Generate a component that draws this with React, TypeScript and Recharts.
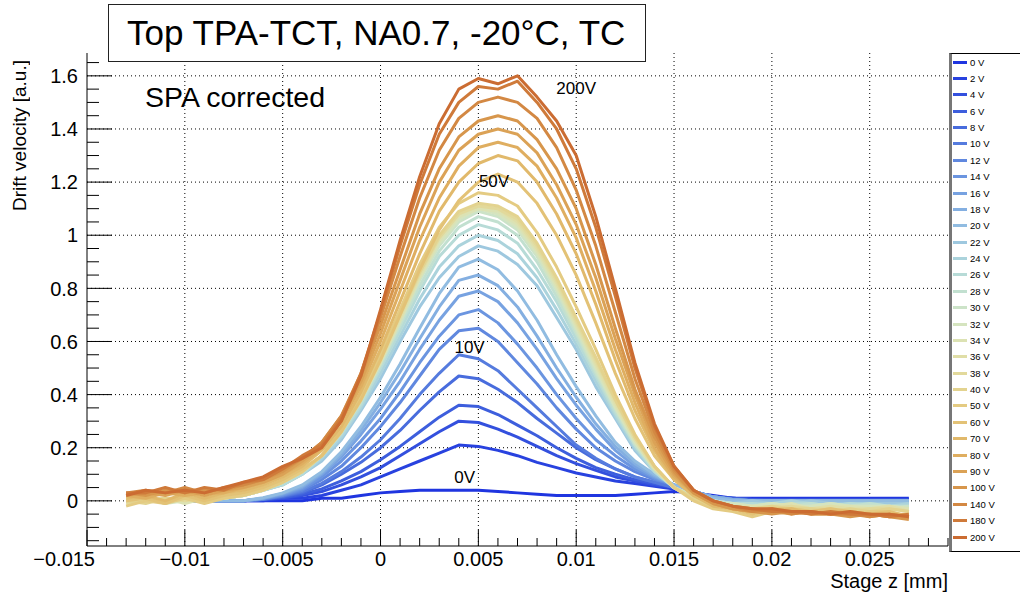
import { LineChart, Line, XAxis, YAxis, ReferenceLine, ReferenceDot } from "recharts";

// stage position [mm]
const zPos = [
  -0.013, -0.012, -0.011, -0.01, -0.009, -0.008, -0.007, -0.006, -0.005, -0.004,
  -0.003, -0.002, -0.001, 0, 0.001, 0.002, 0.003, 0.004, 0.005, 0.006,
  0.007, 0.008, 0.009, 0.01, 0.011, 0.012, 0.013, 0.014, 0.015, 0.016,
  0.017, 0.018, 0.019, 0.02, 0.021, 0.022, 0.023, 0.024, 0.025, 0.026, 0.027,
];

const volts = [0, 2, 4, 6, 8, 10, 12, 14, 16, 18, 20, 22, 24, 26, 28, 30, 32, 34, 36, 38, 40, 50, 60, 70, 80, 90, 100, 140, 180, 200];

const colors = [
  "#1f35e0", "#2842df", "#3350de", "#3d5edd", "#486cdd", "#557bde", "#6088df", "#6b95e0",
  "#77a2e1", "#84afe1", "#91bce1", "#9ec8df", "#abd3dc", "#b7dbd7", "#c2e0d0", "#cce3c8",
  "#d5e4bf", "#dce2b3", "#e0dea7", "#e2d99b", "#e3d38f", "#e4cb82", "#e3c276", "#e1b96b",
  "#dfae60", "#dba256", "#d7964c", "#d38843", "#cf7a3a", "#cb6c32",
];

// drift velocity [a.u.], one array per bias voltage
const v0 = [0, 0, 0, 0, 0, 0, 0, 0, 0, 0, 0.01, 0.01, 0.02, 0.03, 0.035, 0.04, 0.04, 0.04, 0.04, 0.035, 0.03, 0.025, 0.02, 0.02, 0.02, 0.02, 0.025, 0.03, 0.035, 0.03, 0.02, 0.01, 0.01, 0.01, 0.01, 0.01, 0.01, 0.01, 0.01, 0.01, 0.01];
const v2 = [0, 0, 0, 0, 0, 0, 0, 0, 0.01, 0.01, 0.02, 0.04, 0.06, 0.09, 0.12, 0.15, 0.18, 0.21, 0.205, 0.19, 0.17, 0.145, 0.125, 0.105, 0.09, 0.075, 0.065, 0.055, 0.045, 0.03, 0.015, 0.01, 0.005, 0.005, 0.005, 0.005, 0.005, 0.005, 0.005, 0.005, 0.005];
const v4 = [0, 0, 0, 0, 0, 0, 0, 0.005, 0.01, 0.02, 0.035, 0.06, 0.09, 0.125, 0.17, 0.215, 0.26, 0.3, 0.295, 0.27, 0.24, 0.205, 0.17, 0.14, 0.115, 0.09, 0.075, 0.06, 0.05, 0.035, 0.015, 0.01, 0.005, 0.005, 0.005, 0.005, 0.005, 0.005, 0.005, 0.005, 0.005];
const v6 = [0, 0, 0, 0, 0, 0, 0, 0.005, 0.012, 0.025, 0.045, 0.075, 0.11, 0.155, 0.205, 0.26, 0.315, 0.36, 0.355, 0.325, 0.285, 0.245, 0.2, 0.16, 0.125, 0.1, 0.08, 0.065, 0.05, 0.035, 0.015, 0.01, 0.005, 0, 0, 0, 0, 0, 0, 0, 0];
const v8 = [0, 0, 0, 0, 0, 0, 0, 0.005, 0.015, 0.03, 0.06, 0.1, 0.145, 0.2, 0.265, 0.34, 0.41, 0.47, 0.46, 0.42, 0.37, 0.31, 0.255, 0.2, 0.155, 0.12, 0.09, 0.07, 0.05, 0.035, 0.015, 0.005, 0, 0, 0, 0, 0, 0, 0, 0, 0];
const v10 = [0, 0, 0, 0, 0, 0, 0, 0.006, 0.017, 0.035, 0.066, 0.11, 0.165, 0.23, 0.31, 0.4, 0.48, 0.55, 0.535, 0.49, 0.42, 0.35, 0.28, 0.21, 0.16, 0.12, 0.09, 0.07, 0.05, 0.03, 0.015, 0.005, 0, 0, 0, 0, 0, 0, 0, 0, 0];
const v12 = [0, 0, 0, 0, 0, 0, 0, 0.006, 0.02, 0.04, 0.08, 0.13, 0.2, 0.28, 0.37, 0.47, 0.57, 0.64, 0.65, 0.6, 0.52, 0.44, 0.35, 0.27, 0.2, 0.15, 0.11, 0.08, 0.06, 0.035, 0.015, 0.005, 0, 0, 0, 0, 0, 0, 0, 0, 0];
const v14 = [0, 0, 0, 0, 0, 0, 0, 0.008, 0.022, 0.045, 0.09, 0.15, 0.225, 0.31, 0.41, 0.52, 0.62, 0.7, 0.72, 0.67, 0.59, 0.5, 0.4, 0.31, 0.23, 0.17, 0.12, 0.085, 0.06, 0.035, 0.015, 0.005, 0, 0, 0, 0, 0, 0, 0, 0, 0];
const v16 = [0, 0, 0, 0, 0, 0, 0, 0.01, 0.025, 0.05, 0.1, 0.165, 0.25, 0.345, 0.45, 0.57, 0.68, 0.77, 0.79, 0.75, 0.67, 0.57, 0.46, 0.36, 0.27, 0.19, 0.13, 0.09, 0.06, 0.035, 0.015, 0.005, 0, 0, 0, 0, 0, 0, 0, 0, 0];
const v18 = [0, 0, 0, 0, 0, 0, 0, 0.01, 0.028, 0.055, 0.105, 0.175, 0.265, 0.37, 0.485, 0.61, 0.73, 0.83, 0.85, 0.81, 0.73, 0.62, 0.5, 0.39, 0.29, 0.205, 0.14, 0.095, 0.06, 0.035, 0.015, 0.005, 0, 0, 0, 0, 0, 0, 0, 0, 0];
const v20 = [0, 0, 0, 0, 0, 0, 0, 0.012, 0.03, 0.06, 0.11, 0.185, 0.28, 0.39, 0.515, 0.65, 0.78, 0.88, 0.91, 0.87, 0.79, 0.68, 0.55, 0.43, 0.32, 0.22, 0.15, 0.1, 0.06, 0.03, 0.01, 0, 0, 0, 0, 0, 0, 0, 0, 0, 0];
const v22 = [0, 0, 0, 0, 0, 0.01, 0.02, 0.04, 0.06, 0.1, 0.15, 0.23, 0.34, 0.46, 0.6, 0.73, 0.84, 0.92, 0.96, 0.94, 0.89, 0.81, 0.69, 0.57, 0.43, 0.31, 0.19, 0.11, 0.05, 0.02, 0, -0.01, 0, -0.01, -0.01, 0, -0.01, -0.01, -0.01, -0.01, -0.01];
const v24 = [0, 0.01, 0, 0.01, 0, 0.01, 0.02, 0.04, 0.06, 0.1, 0.16, 0.24, 0.35, 0.48, 0.62, 0.76, 0.88, 0.96, 1.0, 0.98, 0.93, 0.84, 0.72, 0.59, 0.45, 0.32, 0.2, 0.11, 0.05, 0.02, 0, -0.01, -0.01, -0.01, 0, -0.01, -0.02, -0.01, -0.01, -0.02, -0.01];
const v26 = [0, 0, 0.01, 0, 0.01, 0.01, 0.02, 0.04, 0.06, 0.1, 0.17, 0.25, 0.36, 0.5, 0.64, 0.79, 0.92, 1.0, 1.04, 1.02, 0.97, 0.87, 0.75, 0.61, 0.47, 0.33, 0.21, 0.11, 0.05, 0.02, 0, -0.01, -0.01, -0.02, -0.01, -0.01, -0.02, -0.01, -0.02, -0.02, -0.02];
const v28 = [0.01, 0, 0, 0.01, 0, 0.01, 0.02, 0.04, 0.07, 0.11, 0.17, 0.26, 0.37, 0.51, 0.66, 0.81, 0.94, 1.03, 1.07, 1.05, 1.0, 0.9, 0.77, 0.63, 0.48, 0.34, 0.21, 0.12, 0.05, 0.02, 0, -0.01, -0.02, -0.01, -0.02, -0.01, -0.02, -0.02, -0.01, -0.02, -0.02];
const v30 = [0, 0.01, 0, 0, 0.01, 0.01, 0.02, 0.04, 0.07, 0.11, 0.17, 0.26, 0.38, 0.52, 0.67, 0.83, 0.96, 1.05, 1.09, 1.07, 1.02, 0.92, 0.79, 0.64, 0.49, 0.35, 0.22, 0.12, 0.05, 0.02, -0.01, -0.01, -0.02, -0.01, -0.02, -0.02, -0.01, -0.02, -0.02, -0.03, -0.02];
const v32 = [0, 0.01, -0.01, 0, 0.01, 0.01, 0.02, 0.04, 0.07, 0.11, 0.17, 0.26, 0.38, 0.52, 0.68, 0.84, 0.97, 1.06, 1.1, 1.08, 1.03, 0.93, 0.8, 0.65, 0.5, 0.35, 0.22, 0.12, 0.05, 0.01, -0.01, -0.01, -0.02, -0.01, -0.02, -0.02, -0.01, -0.02, -0.02, -0.02, -0.03];
const v34 = [0.01, 0, 0.01, -0.01, 0.01, 0.02, 0.02, 0.04, 0.07, 0.11, 0.17, 0.26, 0.38, 0.52, 0.68, 0.84, 0.98, 1.07, 1.1, 1.09, 1.04, 0.94, 0.81, 0.66, 0.51, 0.36, 0.23, 0.12, 0.05, 0.01, -0.01, -0.02, -0.02, -0.02, -0.01, -0.03, -0.02, -0.02, -0.03, -0.02, -0.03];
const v36 = [0, 0.01, 0, 0.01, 0, 0.02, 0.03, 0.05, 0.07, 0.11, 0.17, 0.26, 0.38, 0.53, 0.69, 0.85, 0.99, 1.08, 1.11, 1.1, 1.05, 0.95, 0.82, 0.67, 0.52, 0.37, 0.23, 0.12, 0.05, 0.01, -0.01, -0.02, -0.03, -0.02, -0.02, -0.03, -0.02, -0.03, -0.03, -0.02, -0.04];
const v38 = [-0.01, 0, 0.01, 0, 0.01, 0.01, 0.03, 0.04, 0.07, 0.11, 0.17, 0.26, 0.39, 0.54, 0.7, 0.86, 0.99, 1.08, 1.11, 1.1, 1.06, 0.96, 0.83, 0.68, 0.53, 0.38, 0.24, 0.13, 0.05, 0.01, -0.02, -0.02, -0.03, -0.03, -0.02, -0.03, -0.03, -0.04, -0.03, -0.03, -0.04];
const v40 = [0, -0.01, 0.01, 0.01, 0, 0.02, 0.03, 0.05, 0.07, 0.11, 0.17, 0.27, 0.39, 0.54, 0.7, 0.86, 1.0, 1.09, 1.12, 1.11, 1.07, 0.97, 0.84, 0.69, 0.54, 0.38, 0.24, 0.13, 0.05, 0.01, -0.02, -0.03, -0.03, -0.02, -0.03, -0.03, -0.04, -0.03, -0.04, -0.03, -0.04];
const v50 = [-0.02, 0, -0.01, 0.01, -0.01, 0.01, 0.02, 0.04, 0.07, 0.11, 0.17, 0.27, 0.39, 0.55, 0.72, 0.89, 1.03, 1.12, 1.16, 1.15, 1.11, 1.01, 0.88, 0.73, 0.57, 0.4, 0.25, 0.13, 0.05, 0, -0.03, -0.04, -0.06, -0.04, -0.03, -0.04, -0.03, -0.05, -0.04, -0.04, -0.06];
const v60 = [0, 0.01, -0.01, 0.02, 0, 0.02, 0.03, 0.05, 0.08, 0.12, 0.17, 0.26, 0.38, 0.53, 0.7, 0.87, 1.02, 1.13, 1.2, 1.23, 1.2, 1.12, 1.0, 0.85, 0.67, 0.48, 0.31, 0.17, 0.08, 0.02, -0.01, -0.03, -0.05, -0.03, -0.03, -0.04, -0.03, -0.04, -0.05, -0.04, -0.06];
const v70 = [0.01, 0.02, 0, 0.03, 0.01, 0.03, 0.04, 0.06, 0.09, 0.13, 0.19, 0.28, 0.41, 0.57, 0.75, 0.93, 1.09, 1.2, 1.27, 1.3, 1.28, 1.2, 1.08, 0.93, 0.74, 0.53, 0.34, 0.19, 0.08, 0.02, -0.02, -0.03, -0.04, -0.04, -0.03, -0.05, -0.04, -0.04, -0.05, -0.05, -0.05];
const v80 = [0.02, 0.01, 0.03, 0.02, 0.03, 0.03, 0.05, 0.07, 0.1, 0.14, 0.2, 0.3, 0.43, 0.6, 0.79, 0.98, 1.14, 1.26, 1.33, 1.35, 1.33, 1.26, 1.14, 0.99, 0.79, 0.57, 0.37, 0.2, 0.09, 0.03, -0.01, -0.03, -0.04, -0.03, -0.04, -0.04, -0.05, -0.04, -0.06, -0.05, -0.06];
const v90 = [0.02, 0.03, 0.02, 0.04, 0.02, 0.04, 0.05, 0.07, 0.1, 0.15, 0.21, 0.31, 0.45, 0.63, 0.83, 1.03, 1.2, 1.32, 1.38, 1.4, 1.38, 1.31, 1.19, 1.04, 0.84, 0.61, 0.4, 0.22, 0.1, 0.03, -0.01, -0.03, -0.04, -0.04, -0.05, -0.04, -0.05, -0.05, -0.05, -0.06, -0.06];
const v100 = [0.03, 0.02, 0.04, 0.03, 0.04, 0.04, 0.06, 0.08, 0.11, 0.16, 0.22, 0.32, 0.47, 0.66, 0.87, 1.08, 1.25, 1.37, 1.43, 1.45, 1.43, 1.36, 1.25, 1.1, 0.89, 0.65, 0.42, 0.24, 0.11, 0.03, -0.01, -0.03, -0.04, -0.05, -0.04, -0.05, -0.05, -0.06, -0.05, -0.06, -0.07];
const v140 = [0.03, 0.04, 0.03, 0.05, 0.03, 0.05, 0.06, 0.08, 0.12, 0.16, 0.22, 0.32, 0.48, 0.69, 0.92, 1.14, 1.32, 1.44, 1.5, 1.52, 1.5, 1.44, 1.33, 1.17, 0.96, 0.71, 0.46, 0.26, 0.12, 0.04, 0, -0.02, -0.04, -0.03, -0.05, -0.04, -0.05, -0.05, -0.06, -0.05, -0.06];
const v180 = [0.03, 0.03, 0.05, 0.03, 0.05, 0.04, 0.07, 0.08, 0.12, 0.17, 0.21, 0.31, 0.48, 0.71, 0.96, 1.19, 1.38, 1.5, 1.56, 1.55, 1.58, 1.5, 1.4, 1.25, 1.03, 0.77, 0.5, 0.28, 0.13, 0.04, 0, -0.02, -0.03, -0.04, -0.04, -0.05, -0.04, -0.05, -0.05, -0.06, -0.05];
const v200 = [0.02, 0.04, 0.03, 0.04, 0.03, 0.05, 0.07, 0.09, 0.13, 0.16, 0.2, 0.3, 0.47, 0.72, 0.98, 1.22, 1.42, 1.55, 1.59, 1.57, 1.6, 1.52, 1.43, 1.3, 1.07, 0.8, 0.52, 0.29, 0.13, 0.04, 0, -0.02, -0.03, -0.03, -0.04, -0.04, -0.05, -0.04, -0.05, -0.05, -0.06];

const seriesValues = [v0, v2, v4, v6, v8, v10, v12, v14, v16, v18, v20, v22, v24, v26, v28, v30, v32, v34, v36, v38, v40, v50, v60, v70, v80, v90, v100, v140, v180, v200];

// text marks put next to some of the curves
const curveTags = [
  { text: "200V", z: 0.01, v: 1.555 },
  { text: "50V", z: 0.0058, v: 1.205 },
  { text: "10V", z: 0.00455, v: 0.58 },
  { text: "0V", z: 0.0043, v: 0.09 },
];

const xDomain = [-0.015, 0.029];
const yDomain = [-0.17, 1.686];
const xTicks = Array.from({ length: 45 }, (_, i) => Number((-0.015 + i * 0.001).toFixed(3)));
const yTicks = Array.from({ length: 37 }, (_, i) => Number((-0.15 + i * 0.05).toFixed(2)));
const xGrid = [-0.01, -0.005, 0, 0.005, 0.01, 0.015, 0.02, 0.025];
const yGrid = [0, 0.2, 0.4, 0.6, 0.8, 1, 1.2, 1.4, 1.6];

const data = zPos.map((z, i) => {
  const row: any = { z };
  volts.forEach((v, k) => {
    row["v" + v] = seriesValues[k][i];
  });
  return row;
});

const FONT = "'Liberation Sans', Arial, Helvetica, sans-serif";

const isMajor = (v: number, step: number) => Math.abs(v / step - Math.round(v / step)) < 1e-6;
const fmt = (v: number) => {
  const s = String(Number(v.toFixed(3)));
  return s.startsWith("-") ? "\u2212" + s.slice(1) : s;
};

const YTick = (props: any) => {
  const { x, y, payload } = props;
  const v = payload.value;
  const major = isMajor(v, 0.2);
  return (
    <g>
      <line x1={x} x2={x + (major ? 25 : 12)} y1={y} y2={y} stroke="#000" strokeWidth={1} />
      {major && (
        <text x={x - 9} y={y} dy="0.36em" textAnchor="end" fontSize={20} fontFamily={FONT} fill="#000">
          {fmt(v)}
        </text>
      )}
    </g>
  );
};

const XTick = (props: any) => {
  const { x, y, payload } = props;
  const v = payload.value;
  const major = isMajor(v, 0.005);
  const first = Math.abs(v - xDomain[0]) < 1e-9;
  return (
    <g>
      <line x1={x} x2={x} y1={y} y2={y - (major ? 16 : 8)} stroke="#000" strokeWidth={1} />
      {major && (
        <text
          x={first ? x + 8 : x}
          y={y + 20}
          textAnchor={first ? "end" : "middle"}
          fontSize={20}
          fontFamily={FONT}
          fill="#000"
        >
          {fmt(v)}
        </text>
      )}
    </g>
  );
};

const App = () => {
  return (
    <div
      style={{
        position: "absolute",
        left: 0,
        top: 0,
        width: 1020,
        height: 592,
        background: "#fff",
        fontFamily: FONT,
        overflow: "hidden",
      }}
    >
      <LineChart width={1020} height={592} data={data} margin={{ top: 53, right: 72, bottom: 0, left: 0 }}>
        <XAxis
          dataKey="z"
          type="number"
          domain={xDomain}
          ticks={xTicks}
          interval={0}
          allowDataOverflow
          height={46}
          tickSize={0}
          tickMargin={0}
          tickLine={false}
          tick={<XTick />}
          axisLine={{ stroke: "#000", strokeWidth: 1 }}
        />
        <XAxis
          xAxisId="top"
          orientation="top"
          dataKey="z"
          type="number"
          domain={xDomain}
          allowDataOverflow
          height={0}
          tick={false}
          tickLine={false}
          axisLine={{ stroke: "#000", strokeWidth: 1 }}
        />
        <YAxis
          type="number"
          domain={yDomain}
          ticks={yTicks}
          interval={0}
          allowDataOverflow
          width={87}
          tickSize={0}
          tickMargin={0}
          tickLine={false}
          tick={<YTick />}
          axisLine={{ stroke: "#000", strokeWidth: 1 }}
        />
        <YAxis
          yAxisId="right"
          orientation="right"
          type="number"
          domain={yDomain}
          allowDataOverflow
          width={0}
          tick={false}
          tickLine={false}
          axisLine={{ stroke: "#000", strokeWidth: 1 }}
        />
        {xGrid.map((g) => (
          <ReferenceLine key={"gx" + g} x={g} stroke="#000" strokeWidth={1} strokeDasharray="1 3" />
        ))}
        {yGrid.map((g) => (
          <ReferenceLine key={"gy" + g} y={g} stroke="#000" strokeWidth={1} strokeDasharray="1 3" />
        ))}
        {volts.map((v, k) => (
          <Line
            key={v}
            type="linear"
            dataKey={"v" + v}
            stroke={colors[k]}
            strokeWidth={3}
            strokeLinejoin="round"
            dot={false}
            activeDot={false}
            isAnimationActive={false}
          />
        ))}
        {curveTags.map((t) => (
          <ReferenceDot
            key={t.text}
            x={t.z}
            y={t.v}
            r={0}
            stroke="none"
            fill="none"
            label={{ value: t.text, position: "center", fontSize: 17, fill: "#000", fontFamily: FONT }}
          />
        ))}
      </LineChart>

      {/* title box */}
      <div
        style={{
          position: "absolute",
          left: 108,
          top: 4,
          width: 538,
          height: 58,
          border: "1.5px solid #222",
          background: "#fff",
          boxSizing: "border-box",
          fontSize: 35,
          lineHeight: "55px",
          paddingLeft: 18,
          color: "#000",
          whiteSpace: "nowrap",
        }}
      >
        Top TPA-TCT, NA0.7, -20°C, TC
      </div>

      <div style={{ position: "absolute", left: 145, top: 80, fontSize: 28.5, lineHeight: "34px", color: "#000" }}>
        SPA corrected
      </div>

      {/* axis titles */}
      <div
        style={{
          position: "absolute",
          left: 9,
          top: 60,
          writingMode: "vertical-rl",
          transform: "rotate(180deg)",
          fontSize: 19,
          lineHeight: "22px",
          color: "#000",
          whiteSpace: "nowrap",
        }}
      >
        Drift velocity [a.u.]
      </div>
      <div
        style={{
          position: "absolute",
          right: 72,
          top: 570,
          fontSize: 20,
          lineHeight: "22px",
          color: "#000",
          whiteSpace: "nowrap",
        }}
      >
        Stage z [mm]
      </div>

      {/* legend */}
      <div
        style={{
          position: "absolute",
          left: 949,
          top: 53,
          width: 80,
          height: 497,
          borderLeft: "3px solid #777",
          borderTop: "1px solid #000",
          borderBottom: "1px solid #000",
          background: "#fff",
        }}
      >
        {volts.map((v, k) => (
          <div
            key={v}
            style={{
              position: "absolute",
              left: 1,
              top: 2 + k * 16.38,
              height: 12,
              display: "flex",
              alignItems: "center",
              fontSize: 9.5,
              color: "#000",
              whiteSpace: "nowrap",
            }}
          >
            <span style={{ display: "inline-block", width: 14, height: 3, background: colors[k], marginRight: 3 }} />
            {v} V
          </div>
        ))}
      </div>
    </div>
  );
};

export default App;
